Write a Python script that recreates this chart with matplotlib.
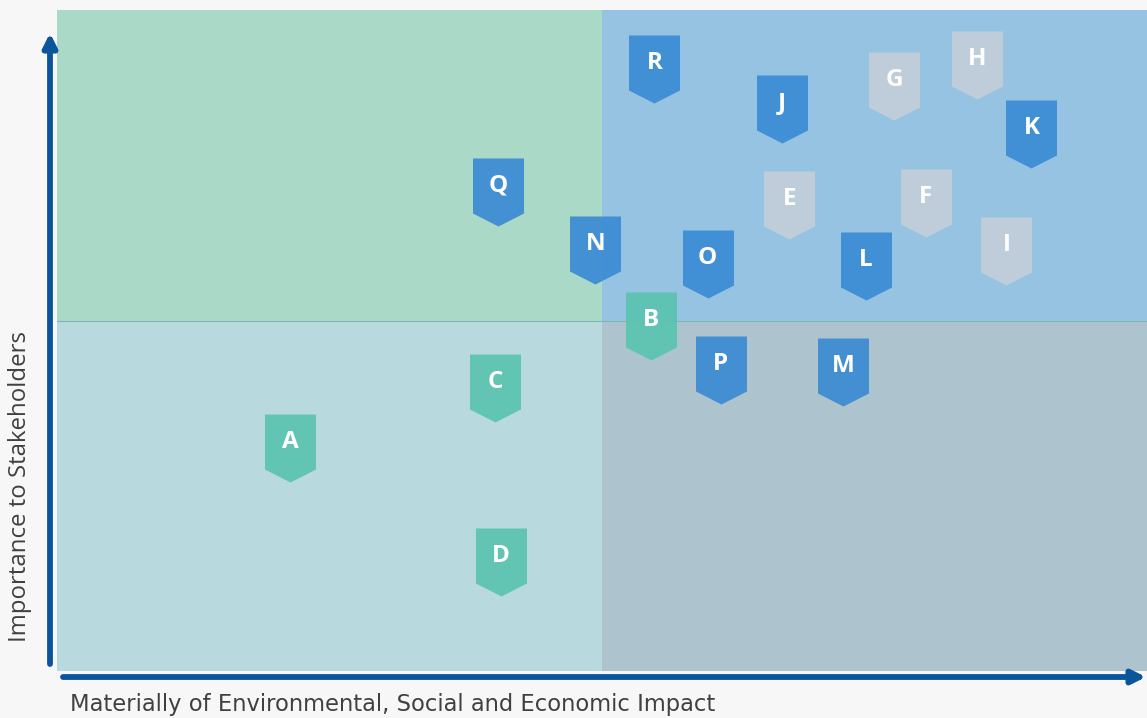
import matplotlib.pyplot as plt
from matplotlib.path import Path

# materiality matrix data (scores 0-10)
labels = ['A', 'B', 'C', 'D', 'E', 'F', 'G', 'H', 'I',
          'J', 'K', 'L', 'M', 'N', 'O', 'P', 'Q', 'R']
impact = [2.14, 5.45, 4.02, 4.07, 6.72, 7.97, 7.68, 8.44, 8.71,
          6.65, 8.94, 7.42, 7.21, 4.94, 5.97, 6.09, 4.05, 5.48]
importance = [3.46, 5.31, 4.37, 1.74, 7.14, 7.17, 8.94, 9.26, 6.44,
              8.59, 8.21, 6.22, 4.61, 6.46, 6.25, 4.64, 7.34, 9.20]
groups = ['teal', 'teal', 'teal', 'teal', 'grey', 'grey', 'grey', 'grey', 'grey',
          'blue', 'blue', 'blue', 'blue', 'blue', 'blue', 'blue', 'blue', 'blue']

x_mid, y_mid = 5.0, 5.3
x_max, y_max = 10.0, 10.0

group_colors = {'teal': '#5bc4b0', 'grey': '#c2ced9', 'blue': '#3a8bd3'}

# pentagon tag pointing down, origin at the letter
tag = Path([(-25.5, 28), (25.5, 28), (25.5, -27), (0, -40), (-25.5, -27), (-25.5, 28)],
           [Path.MOVETO, Path.LINETO, Path.LINETO, Path.LINETO, Path.LINETO, Path.CLOSEPOLY])

fig = plt.figure(figsize=(11.47, 7.18), dpi=100)
fig.patch.set_facecolor('#f7f7f7')
ax = fig.add_axes([57 / 1147, 47 / 718, 1090 / 1147, 661 / 718])
ax.set_xlim(0, x_max)
ax.set_ylim(0, y_max)
ax.axis('off')

# quadrants
ax.fill_between([0, x_mid], y_mid, y_max, color='#aad9c8', lw=0)
ax.fill_between([x_mid, x_max], y_mid, y_max, color='#97c3e2', lw=0)
ax.fill_between([0, x_mid], 0, y_mid, color='#b8dadf', lw=0)
ax.fill_between([x_mid, x_max], 0, y_mid, color='#adc4ce', lw=0)
ax.axhline(y_mid, color='#7fb5b4', lw=0.8)

for g in ['teal', 'grey', 'blue']:
    idx = [i for i, gg in enumerate(groups) if gg == g]
    ax.scatter([impact[i] for i in idx], [importance[i] for i in idx],
               marker=tag, s=57.6 ** 2, color=group_colors[g],
               alpha=0.92, linewidths=0, zorder=3)

for lab, x, y in zip(labels, impact, importance):
    ax.text(x, y, lab, color='white', fontsize=17.5, fontweight='bold',
            family=['Open Sans', 'DejaVu Sans'],
            ha='center', va='center', zorder=4)

# axis arrows
arrow_kw = dict(arrowstyle='-|>,head_length=0.8,head_width=0.4',
                color='#0b559c', lw=4.2, shrinkA=0, shrinkB=0)
ax.annotate('', xy=(50, 718 - 33), xytext=(50, 718 - 664),
            xycoords='figure pixels', textcoords='figure pixels',
            arrowprops=arrow_kw, annotation_clip=False)
ax.annotate('', xy=(1146, 718 - 677), xytext=(63, 718 - 677),
            xycoords='figure pixels', textcoords='figure pixels',
            arrowprops=arrow_kw, annotation_clip=False)

fig.text(70 / 1147, 1 - 705 / 718, 'Materially of Environmental, Social and Economic Impact',
         fontsize=16.3, color='#404040', ha='left', va='center',
         family=['Liberation Sans Narrow', 'DejaVu Sans'])
fig.text(20 / 1147, 1 - 487 / 718, 'Importance to Stakeholders',
         fontsize=17.3, color='#404040', rotation=90, ha='center', va='center',
         family=['Open Sans', 'DejaVu Sans'])

fig.savefig('out.png', dpi=100, facecolor=fig.get_facecolor())
